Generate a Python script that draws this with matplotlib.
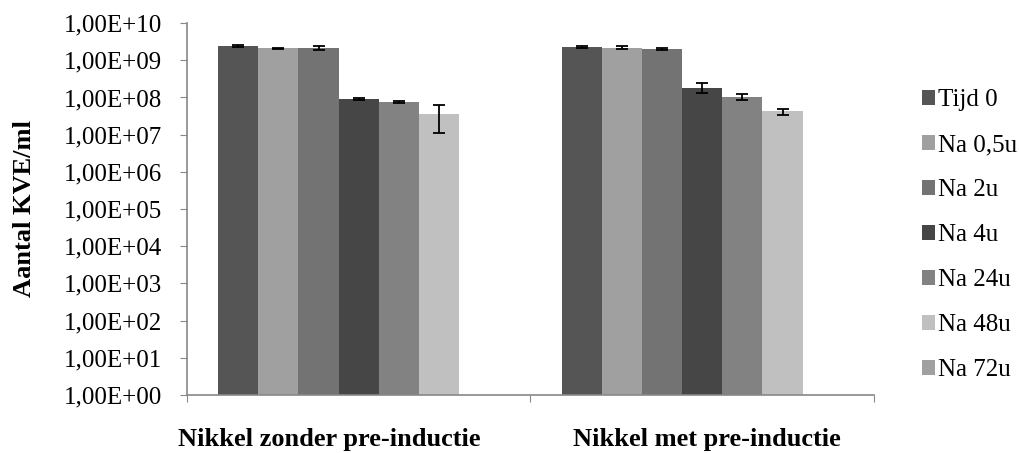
import matplotlib
matplotlib.use("Agg")
import matplotlib.pyplot as plt
from matplotlib.ticker import FixedLocator, FuncFormatter
import numpy as np

plt.rcParams['font.family'] = ['Liberation Serif', 'DejaVu Serif']

groups = ["Nikkel zonder pre-inductie", "Nikkel met pre-inductie"]
series = ["Tijd 0", "Na 0,5u", "Na 2u", "Na 4u", "Na 24u", "Na 48u", "Na 72u"]
colors = ["#555555", "#a0a0a0", "#737373", "#464646", "#828282", "#c0c0c0", "#a0a0a0"]

# values per series: [zonder, met]
values = [
    [2.4e9, 2.3e9],
    [2.1e9, 2.2e9],
    [2.1e9, 2.0e9],
    [9.0e7, 1.85e8],
    [7.5e7, 1.05e8],
    [3.6e7, 4.2e7],
    [np.nan, np.nan],
]
errors = [
    [1.5e8, 1.0e8],
    [5.0e7, 1.5e8],
    [2.5e8, 1.2e8],
    [6.0e6, 5.5e7],
    [5.0e6, 2.0e7],
    [2.5e7, 8.0e6],
    [np.nan, np.nan],
]

fig = plt.figure(figsize=(10.2, 4.53), dpi=100)
ax = fig.add_axes([0.1833, 0.128, 0.6735, 0.821])

x = np.arange(len(groups))
w = 0.117
for i, name in enumerate(series):
    pos = x + (i - 3) * w
    ax.bar(pos, values[i], width=w, color=colors[i], label=name,
           edgecolor="none")
    ax.errorbar(pos, values[i], yerr=errors[i], fmt="none", ecolor="black",
                elinewidth=1.3, capsize=4.5, capthick=1.3)

ax.set_yscale("log")
ax.set_ylim(1, 1e10)
ax.set_xlim(-0.5, 1.5)

ax.yaxis.set_major_locator(FixedLocator([10.0 ** k for k in range(11)]))
ax.yaxis.set_minor_locator(FixedLocator([]))
ax.yaxis.set_major_formatter(FuncFormatter(lambda v, p: "1,00E+%02d" % round(np.log10(v))))

# category boundaries as ticks, labels placed separately
ax.set_xticks([-0.5, 0.5, 1.5])
ax.set_xticklabels(["", "", ""])
ax.set_xticks([-0.086, 1.013], minor=True)
ax.set_xticklabels(groups, minor=True, fontsize=19, fontweight="bold")
ax.tick_params(axis="x", which="minor", length=0, pad=24)
ax.tick_params(axis="x", which="major", length=5, color="#888888", direction="out")
ax.tick_params(axis="y", length=5, color="#888888", direction="out", labelsize=18, pad=13)

for s in ["top", "right"]:
    ax.spines[s].set_visible(False)
for s in ["left", "bottom"]:
    ax.spines[s].set_color("#888888")
    ax.spines[s].set_linewidth(1.2)

ax.set_ylabel("Aantal KVE/ml", fontsize=19, fontweight="bold", labelpad=20)

fig.legend(loc="center left", bbox_to_anchor=(0.904, 0.481), frameon=False,
           fontsize=18, handlelength=0.52, handleheight=0.52, handletextpad=0.12,
           labelspacing=0.92, borderpad=0, borderaxespad=0)

fig.savefig("out.png", dpi=100)
